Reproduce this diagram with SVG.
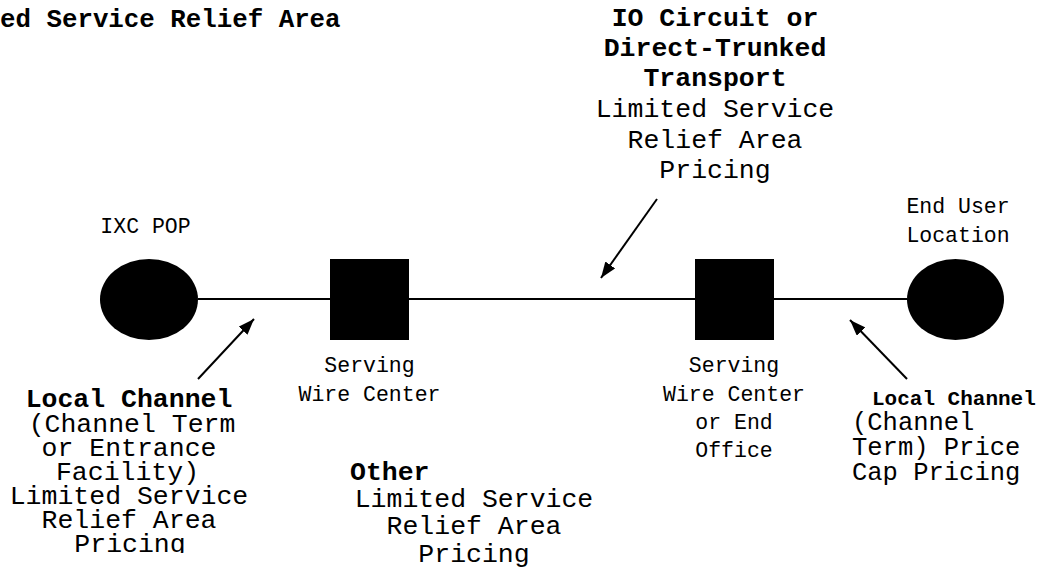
<svg xmlns="http://www.w3.org/2000/svg" width="1041" height="581" viewBox="0 0 1041 581">
<style>
text{font-family:"Liberation Mono","Courier New",monospace;fill:#000}
.b{font-weight:bold}
.L{font-size:26.5px}
.M{font-size:25.5px}
.S{font-size:21.5px}
.c{text-anchor:middle}
.ln{stroke:#000;stroke-width:2;fill:none}
</style>
<defs>
<marker id="ah2" viewBox="0 0 16 12" refX="16" refY="6" markerWidth="16" markerHeight="12" markerUnits="userSpaceOnUse" orient="auto">
<path d="M0,0 L16,6 L0,12 z" fill="#000"/>
</marker>
<clipPath id="clipL"><rect x="0" y="370" width="300" height="183"/></clipPath>
</defs>
<g id="connectors">
<line class="ln" x1="198" y1="299" x2="907" y2="299"/>
<line class="ln" x1="198" y1="379" x2="254" y2="319" marker-end="url(#ah2)"/>
<line class="ln" x1="657" y1="199" x2="601" y2="278" marker-end="url(#ah2)"/>
<line class="ln" x1="907" y1="379" x2="850" y2="320" marker-end="url(#ah2)"/>
</g>
<g id="title">
<text class="b" style="font-size:25.8px" x="0" y="27">ed Service Relief Area</text>
</g>
<g id="ixc-pop">
<ellipse cx="149" cy="299.5" rx="49" ry="40.5" fill="#000"/>
<text class="S c" x="145.5" y="233">IXC POP</text>
</g>
<g id="serving-wire-center-1">
<rect x="330" y="259" width="79" height="81" fill="#000"/>
<text class="S c" x="369.5" y="372">Serving</text>
<text class="S c" x="369.5" y="401">Wire Center</text>
</g>
<g id="serving-wire-center-2">
<rect x="695" y="259" width="79" height="81" fill="#000"/>
<text class="S c" x="734" y="372">Serving</text>
<text class="S c" x="734" y="401">Wire Center</text>
<text class="S c" x="734" y="429">or End</text>
<text class="S c" x="734" y="457">Office</text>
</g>
<g id="end-user-location">
<ellipse cx="955.5" cy="299.5" rx="48.5" ry="40.5" fill="#000"/>
<text class="S c" x="958" y="213">End User</text>
<text class="S c" x="958" y="242">Location</text>
</g>
<g id="io-circuit-label">
<text class="L b c" x="715" y="26">IO Circuit or</text>
<text class="L b c" x="715" y="56">Direct-Trunked</text>
<text class="L b c" x="715" y="86">Transport</text>
<text class="L c" x="715" y="117">Limited Service</text>
<text class="L c" x="715" y="148">Relief Area</text>
<text class="L c" x="715" y="178">Pricing</text>
</g>
<g id="local-channel-left" clip-path="url(#clipL)">
<text class="L b c" x="129" y="407">Local Channel</text>
<text class="L c" x="132" y="432">(Channel Term</text>
<text class="L c" x="129" y="456">or Entrance</text>
<text class="L c" x="127.5" y="480">Facility)</text>
<text class="L c" x="129" y="504">Limited Service</text>
<text class="L c" x="129" y="528">Relief Area</text>
<text class="L c" x="130" y="552">Pricing</text>
</g>
<g id="other-label">
<text class="L b" x="350" y="480">Other</text>
<text class="L c" x="474" y="507">Limited Service</text>
<text class="L c" x="474" y="534">Relief Area</text>
<text class="L c" x="474" y="562">Pricing</text>
</g>
<g id="local-channel-right">
<text class="b" style="font-size:21px" x="872" y="405">Local Channel</text>
<text class="M" x="852" y="430">(Channel</text>
<text class="M" x="852" y="455">Term) Price</text>
<text class="M" x="852" y="480">Cap Pricing</text>
</g>
</svg>
